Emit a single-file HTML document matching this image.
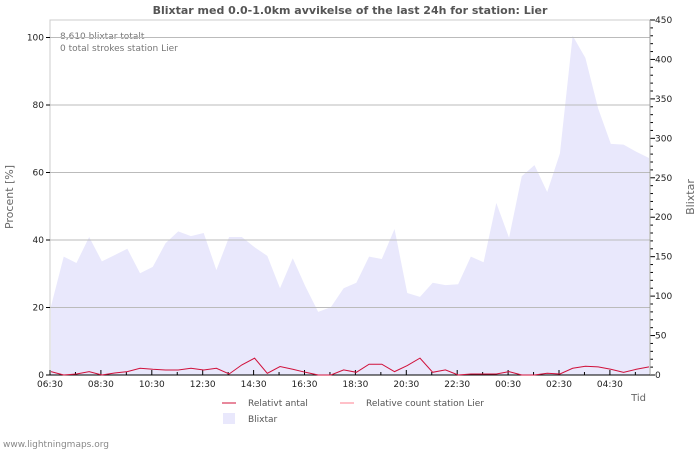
<!DOCTYPE html>
<html><head><meta charset="utf-8"><style>
body{margin:0;background:#fff;font-family:"Liberation Sans","DejaVu Sans",sans-serif}
svg text{font-family:"DejaVu Sans","Liberation Sans",sans-serif}
</style></head><body>
<svg id="c" width="700" height="450" xmlns="http://www.w3.org/2000/svg">
<rect width="700" height="450" fill="#fff"/>
<text x="350" y="14" text-anchor="middle" font-size="11" font-weight="bold" fill="#555">Blixtar med 0.0-1.0km avvikelse of the last 24h for station: Lier</text>
<text x="60" y="39" font-size="9" fill="#777">8,610 blixtar totalt</text>
<text x="60" y="51" font-size="9" fill="#777">0 total strokes station Lier</text>
<text transform="translate(13,197) rotate(-90)" text-anchor="middle" font-size="11" fill="#666">Procent   [%]</text>
<text transform="translate(694,197) rotate(-90)" text-anchor="middle" font-size="11" fill="#666">Blixtar</text>
<text x="646" y="401" text-anchor="end" font-size="10" fill="#666">Tid</text>
<g id="plot"></g>
<g>
<line x1="222" y1="403" x2="236" y2="403" stroke="#d0103a" stroke-width="1"/>
<text x="248" y="406" font-size="9" fill="#555">Relativt antal</text>
<line x1="340" y1="403" x2="354" y2="403" stroke="#ff8090" stroke-width="1"/>
<text x="366" y="406" font-size="9" fill="#555">Relative count station Lier</text>
<rect x="223" y="413" width="12" height="11" fill="#e9e8fc"/>
<text x="248" y="422" font-size="9" fill="#555">Blixtar</text>
</g>
<text x="3" y="447" font-size="9" fill="#888">www.lightningmaps.org</text>
</svg>
<script>
const strokes=[87,150,142,175,144,152,160,129,137,167,182,176,180,133,175,175,162,151,110,148,112,80,86,110,117,150,147,185,104,99,117,114,115,150,143,218,174,252,266,232,281,430,402,338,293,292,283,275];
const percent=[1,0,0.3,1,0,0.6,1,2,1.7,1.5,1.5,2,1.5,2,0.3,3,5,0.5,2.5,1.7,0.8,0,0,1.5,0.8,3.2,3.2,1,2.8,5,0.8,1.5,0,0.3,0.3,0.3,1,0,0,0.5,0.3,2,2.6,2.4,1.7,0.8,1.7,2.4];
const xLabels=["06:30","08:30","10:30","12:30","14:30","16:30","18:30","20:30","22:30","00:30","02:30","04:30"];
const leftTicks=[0,20,40,60,80,100];
const rightTicks=[0,50,100,150,200,250,300,350,400,450];
const NS="http://www.w3.org/2000/svg";
const X0=50,X1=650,Y0=375,YT=20;
const xi=i=>X0+1+i*(X1-X0-2)/(strokes.length-1);
const yL=v=>Y0-v*3.375;
const yR=v=>Y0-v*(Y0-YT)/450;
const hx=h=>X0+h*25.45;
const g=document.getElementById('plot');
function mk(t,a){const e=document.createElementNS(NS,t);for(const k in a)e.setAttribute(k,a[k]);g.appendChild(e);return e;}
let e;
e=mk('rect',{x:X0,y:YT,width:X1-X0,height:Y0-YT,fill:'none',stroke:'#ccc'});


let d='M'+xi(0)+','+Y0;
strokes.forEach((v,i)=>{d+=' L'+xi(i)+','+yR(v);});
d+=' L'+xi(strokes.length-1)+','+Y0+' Z';
e=mk('path',{d:d,fill:'#e9e8fc'});


leftTicks.forEach(v=>{
 e=mk('line',{x1:X0,x2:X1,y1:yL(v),y2:yL(v),stroke:'#bbb'});
 
 
 e=mk('line',{x1:X0-4,x2:X0,y1:yL(v),y2:yL(v),stroke:'#000'});
 
 
 e=mk('text',{x:X0-6,y:yL(v)+3,'text-anchor':'end','font-size':9,fill:'#222'});e.textContent=v;
 
 
});
for(let v=0;v<=450;v+=10){
 e=mk('line',{x1:X1,x2:X1+(v%50?3:5),y1:yR(v),y2:yR(v),stroke:'#000'});
 
 
}
rightTicks.forEach(v=>{
 e=mk('text',{x:X1+5,y:yR(v)+3,'font-size':9,fill:'#222'});e.textContent=v;
 
 
});
e=mk('line',{x1:X1,x2:X1,y1:YT,y2:Y0,stroke:'#999'});


e=mk('line',{x1:X0,x2:X1,y1:Y0,y2:Y0,stroke:'#000'});


for(let h=0;h<24;h++){
 e=mk('line',{x1:hx(h),x2:hx(h),y1:Y0,y2:Y0-(h%2?3:5),stroke:'#000'});
 
 
}
xLabels.forEach((l,i)=>{
 e=mk('text',{x:hx(i*2),y:Y0+12,'text-anchor':'middle','font-size':9,fill:'#222'});e.textContent=l;
 
 
});
e=mk('polyline',{points:percent.map((v,i)=>xi(i)+','+yL(v)).join(' '),fill:'none',stroke:'#d0103a','stroke-width':1});


</script>
</body></html>
